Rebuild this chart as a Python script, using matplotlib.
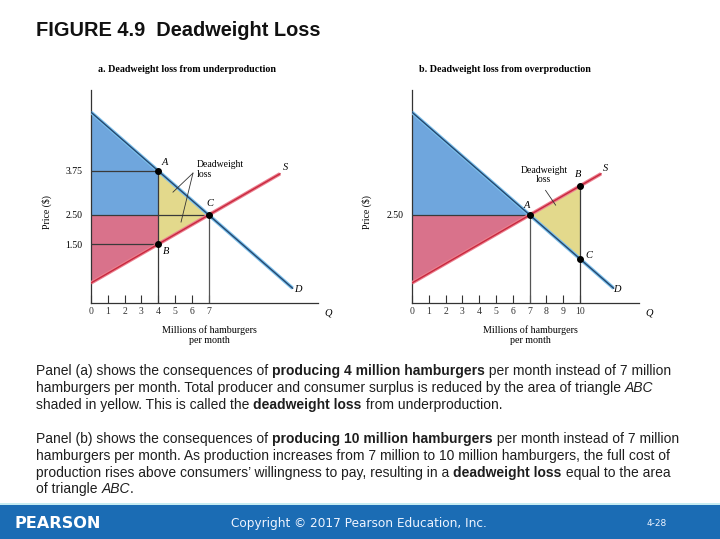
import numpy as np
import matplotlib
matplotlib.use("Agg")
import matplotlib.pyplot as plt
from matplotlib.transforms import blended_transform_factory

# ---- data ----
q_eq = 7
p_eq = 2.50
demand_q = [0, 12]
demand_p = [5.42, 0.42]
supply_q = [0, 11.25]
supply_p = [0.57, 3.67]
q_under = 4
q_over = 10
xticks_a = [0, 1, 2, 3, 4, 5, 6, 7]
xticks_b = [0, 1, 2, 3, 4, 5, 6, 7, 8, 9, 10]
price_labels_a = ["3.75", "2.50", "1.50"]
price_labels_b = ["2.50"]

BLUE = "#6fa6dd"
PINK = "#d9728b"
YELLOW = "#e3d98c"
SERIF = "Liberation Serif"
SANS = "Liberation Sans"

W, H = 720, 539
fig = plt.figure(figsize=(7.2, 5.39), dpi=100)
fig.patch.set_facecolor("white")


def D(q):
    return np.interp(q, demand_q, demand_p)


def S(q):
    return np.interp(q, supply_q, supply_p)


def px(x, y):
    return x / W, 1 - y / H


def setup_axes(left, xticks):
    ax = fig.add_axes([left, 0.43785, 226.8 / W, 212.96 / H])
    ax.set_xlim(0, 13.5)
    ax.set_ylim(0, 6.05)
    for s in ["top", "right"]:
        ax.spines[s].set_visible(False)
    for s in ["left", "bottom"]:
        ax.spines[s].set_linewidth(0.9)
        ax.spines[s].set_color("#333333")
    ax.set_xticks(xticks)
    ax.set_xticklabels([str(t) for t in xticks], fontfamily=SERIF, fontsize=7)
    ax.tick_params(axis="x", direction="in", length=6, width=0.8, pad=3, colors="#333333")
    ax.tick_params(axis="y", length=0, pad=6)
    tr = blended_transform_factory(ax.transData, ax.transAxes)
    ax.text(14.1, -0.047, "Q", transform=tr, fontfamily=SERIF, style="italic",
            fontsize=7.5, ha="center", va="center", clip_on=False)
    ax.text(7.05, -0.15, "Millions of hamburgers\nper month", transform=tr,
            fontfamily=SERIF, fontsize=7.2, ha="center", va="center",
            linespacing=1.15, clip_on=False)
    ax.patch.set_alpha(0)
    return ax


def draw_curves(ax):
    qd = np.array(demand_q)
    qs = np.array(supply_q)
    ax.plot(qd, D(qd), color="#7cc0ec", lw=2.6, solid_capstyle="butt", zorder=4)
    ax.plot(qd, D(qd), color="#24476e", lw=1.0, zorder=5)
    ax.plot(qs, S(qs), color="#ec7f8f", lw=2.6, solid_capstyle="butt", zorder=4)
    ax.plot(qs, S(qs), color="#c8283e", lw=1.0, zorder=5)


def lab(ax, x, y, s, **kw):
    ax.text(x, y, s, fontfamily=SERIF, style="italic", fontsize=7.5,
            ha="center", va="center", zorder=7, **kw)


# ---- panel a: underproduction ----
ax = setup_axes(91 / W, xticks_a)
pA, pB = D(q_under), S(q_under)
ax.fill([0, q_under, q_under, 0], [demand_p[0], pA, p_eq, p_eq], color=BLUE, lw=0, zorder=1)
ax.fill([0, q_under, q_under, 0], [p_eq, p_eq, pB, supply_p[0]], color=PINK, lw=0, zorder=1)
ax.fill([q_under, q_eq, q_under], [pA, p_eq, pB], color=YELLOW, lw=0, zorder=1)
lc = "#3a3a3a"
ax.plot([0, q_under], [pA, pA], color=lc, lw=0.9, zorder=3)
ax.plot([0, q_eq], [p_eq, p_eq], color=lc, lw=0.9, zorder=3)
ax.plot([0, q_under], [pB, pB], color=lc, lw=0.9, zorder=3)
ax.plot([q_under, q_under], [0, pA], color=lc, lw=0.9, zorder=3)
ax.plot([q_eq, q_eq], [0, p_eq], color="#555555", lw=0.9, zorder=3)
draw_curves(ax)
ax.scatter([q_under, q_eq, q_under], [pA, p_eq, pB], s=16, color="black", zorder=6)
ax.set_yticks([pA, p_eq, pB])
ax.set_yticklabels(price_labels_a, fontfamily=SERIF, fontsize=7)
lab(ax, 4.4, 3.98, "A")
lab(ax, 7.08, 2.84, "C")
lab(ax, 4.45, 1.45, "B")
lab(ax, 11.55, 3.86, "S")
lab(ax, 12.3, 0.37, "D")
ax.text(6.3, 3.8, "Deadweight\nloss", fontfamily=SERIF, fontsize=7,
        ha="left", va="center", linespacing=1.1, zorder=7)
ax.plot([6.07, 4.88], [3.69, 3.15], color="#333333", lw=0.6, zorder=7)
ax.plot([6.07, 5.36], [3.69, 2.30], color="#333333", lw=0.6, zorder=7)

# ---- panel b: overproduction ----
bx = setup_axes(412 / W, xticks_b)
pB2, pC2 = S(q_over), D(q_over)
bx.fill([0, q_eq, 0], [demand_p[0], p_eq, p_eq], color=BLUE, lw=0, zorder=1)
bx.fill([0, q_eq, 0], [p_eq, p_eq, supply_p[0]], color=PINK, lw=0, zorder=1)
bx.fill([q_eq, q_over, q_over], [p_eq, pB2, pC2], color=YELLOW, lw=0, zorder=1)
bx.plot([0, q_eq], [p_eq, p_eq], color=lc, lw=0.9, zorder=3)
bx.plot([q_eq, q_eq], [0, p_eq], color="#555555", lw=0.9, zorder=3)
bx.plot([q_over, q_over], [0, pB2], color=lc, lw=0.9, zorder=3)
draw_curves(bx)
bx.scatter([q_eq, q_over, q_over], [p_eq, pB2, pC2], s=16, color="black", zorder=6)
bx.set_yticks([p_eq])
bx.set_yticklabels(price_labels_b, fontfamily=SERIF, fontsize=7)
lab(bx, 6.85, 2.78, "A")
lab(bx, 9.88, 3.66, "B")
lab(bx, 10.5, 1.34, "C")
lab(bx, 11.5, 3.81, "S")
lab(bx, 12.2, 0.37, "D")
bx.text(7.85, 3.64, "Deadweight\nloss", fontfamily=SERIF, fontsize=7,
        ha="center", va="center", linespacing=1.1, zorder=7)
bx.plot([7.95, 8.55], [3.2, 2.78], color="#333333", lw=0.6, zorder=7)

# panel titles and axis labels
fig.text(*px(187, 70), "a. Deadweight loss from underproduction", fontfamily=SERIF,
         fontweight="bold", fontsize=7.2, ha="center", va="center")
fig.text(*px(505, 70), "b. Deadweight loss from overproduction", fontfamily=SERIF,
         fontweight="bold", fontsize=7.2, ha="center", va="center")
fig.text(*px(47, 212), "Price ($)", fontfamily=SERIF, fontsize=7, rotation=90,
         ha="center", va="center")
fig.text(*px(367, 212), "Price ($)", fontfamily=SERIF, fontsize=7, rotation=90,
         ha="center", va="center")

# title
fig.text(*px(36, 31), "FIGURE 4.9  Deadweight Loss", fontfamily=SANS, fontweight="bold",
         fontsize=14.4, ha="left", va="center", color="#111111")

# ---- caption with mixed styles ----
renderer = fig.canvas.get_renderer()
FS = 10.0


def run_width(s, weight, style):
    t1 = fig.text(0, 0, "|" + s + "|", fontfamily=SANS, fontsize=FS, fontweight=weight, style=style)
    t2 = fig.text(0, 0, "||", fontfamily=SANS, fontsize=FS, fontweight=weight, style=style)
    w = t1.get_window_extent(renderer).width - t2.get_window_extent(renderer).width
    t1.remove()
    t2.remove()
    return w


def draw_line(y, runs, x=36):
    for s, weight, style in runs:
        fig.text(x / W, 1 - y / H, s, fontfamily=SANS, fontsize=FS, fontweight=weight,
                 style=style, ha="left", va="baseline", color="#1e1e1e")
        x += run_width(s, weight, style)


n = ("normal", "normal")
b = ("bold", "normal")
it = ("normal", "italic")
para1 = [
    [("Panel (a) shows the consequences of ",) + n, ("producing 4 million hamburgers",) + b,
     (" per month instead of 7 million",) + n],
    [("hamburgers per month. Total producer and consumer surplus is reduced by the area of triangle ",) + n,
     ("ABC",) + it],
    [("shaded in yellow. This is called the ",) + n, ("deadweight loss",) + b,
     (" from underproduction.",) + n],
]
para2 = [
    [("Panel (b) shows the consequences of ",) + n, ("producing 10 million hamburgers",) + b,
     (" per month instead of 7 million",) + n],
    [("hamburgers per month. As production increases from 7 million to 10 million hamburgers, the full cost of",) + n],
    [("production rises above consumers\u2019 willingness to pay, resulting in a ",) + n,
     ("deadweight loss",) + b, (" equal to the area",) + n],
    [("of triangle ",) + n, ("ABC",) + it, (".",) + n],
]
for i, line in enumerate(para1):
    draw_line(375.5 + i * 16.6, line)
for i, line in enumerate(para2):
    draw_line(443.5 + i * 16.5, line)

# ---- footer bar ----
fig.add_artist(plt.Rectangle((0, 0), 1, 34 / H, transform=fig.transFigure,
                             color="#1b6cb4", lw=0))
fig.add_artist(plt.Rectangle((0, 34 / H), 1, 2 / H, transform=fig.transFigure,
                             color="#c6ecf2", lw=0))
fig.text(*px(14, 523), "PEARSON", fontfamily="DejaVu Sans", fontweight="bold",
         fontsize=11.6, color="white", ha="left", va="center")
fig.text(*px(359, 523), "Copyright \u00a9 2017 Pearson Education, Inc.", fontfamily="DejaVu Sans",
         fontsize=8.7, color="#eef4ff", ha="center", va="center")
fig.text(*px(657, 523), "4-28", fontfamily="DejaVu Sans", fontsize=6.5,
         color="#eef4ff", ha="center", va="center")

fig.savefig("out.png", dpi=100)
